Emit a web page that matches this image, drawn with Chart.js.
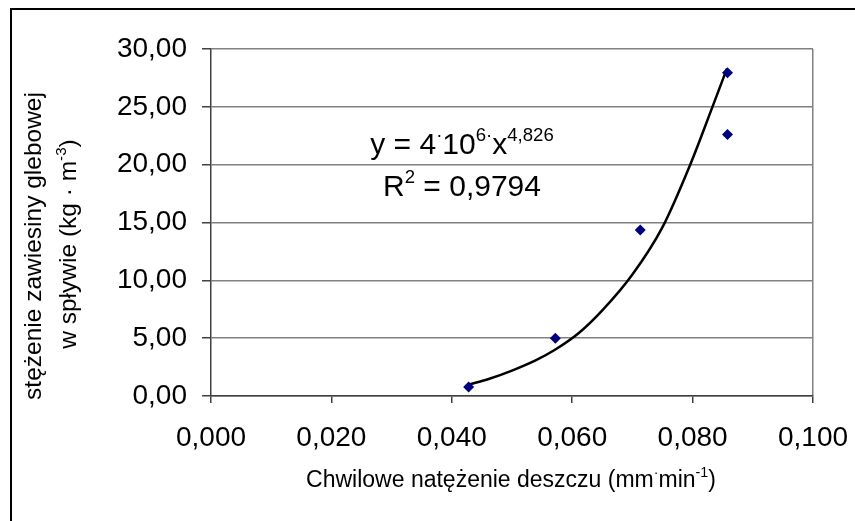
<!DOCTYPE html>
<html>
<head>
<meta charset="utf-8">
<script src="https://cdn.jsdelivr.net/npm/chart.js@4/dist/chart.umd.min.js"></script>
<style>
  html, body { margin: 0; padding: 0; background: #fff; }
  #wrap { width: 855px; height: 521px; position: relative; }
</style>
</head>
<body>
<div id="wrap"><canvas id="MyChart"></canvas></div>
<script>
// measured points
const rainX = [0.0428, 0.0572, 0.0713, 0.0858, 0.0858];
const soilY = [0.78, 5.0, 14.35, 22.6, 27.95];

// power trendline
const trendX = [0.0429, 0.046, 0.050, 0.054, 0.057, 0.061, 0.065, 0.070, 0.075, 0.0796, 0.0833, 0.0857];
const trendY = [1.0, 1.45, 2.2, 3.1, 3.95, 5.4, 7.4, 10.5, 14.6, 20.0, 25.0, 28.3];

const xTitle = [['Chwilowe natężenie deszczu (mm', 0], ['·', 1], ['min', 0], ['-1', 1], [')', 0]];
const yTitle1 = [['stężenie zawiesiny glebowej', 0]];
const yTitle2 = [['w spływie (kg · m', 0], ['-3', 1], [')', 0]];
const eqLine = [['y = 4', 0], ['·', 1], ['10', 0], ['6·', 1], ['x', 0], ['4,826', 1]];
const r2Line = [['R', 0], ['2', 1], [' = 0,9794', 0]];

const FONT = '"Liberation Sans", Arial, sans-serif';

function richWidth(ctx, parts, size) {
    let w = 0;
    parts.forEach(p => {
        ctx.font = (p[1] ? size * 0.62 : size) + 'px ' + FONT;
        w += ctx.measureText(p[0]).width;
    });
    return w;
}

// draws text with superscript pieces, centred on cx, on baseline y
function drawRich(ctx, parts, size, cx, y) {
    const w = richWidth(ctx, parts, size);
    let x = cx - w / 2;
    ctx.textAlign = 'left';
    ctx.textBaseline = 'alphabetic';
    parts.forEach(p => {
        const s = p[1] ? size * 0.62 : size;
        ctx.font = s + 'px ' + FONT;
        ctx.fillText(p[0], x, p[1] ? y - size * 0.42 : y);
        x += ctx.measureText(p[0]).width;
    });
}

const extras = {
    id: 'extras',
    beforeDraw(chart) {
        const ctx = chart.ctx;
        ctx.save();
        ctx.fillStyle = '#fff';
        ctx.fillRect(0, 0, chart.width, chart.height);
        ctx.strokeStyle = '#000';
        ctx.lineWidth = 2;
        ctx.strokeRect(11, 9, 1000, 1000);
        ctx.restore();
    },
    afterDraw(chart) {
        const ctx = chart.ctx;
        ctx.save();
        ctx.fillStyle = '#000';
        drawRich(ctx, xTitle, 23, 511, 487);
        drawRich(ctx, eqLine, 30, 462, 154);
        drawRich(ctx, r2Line, 30, 462, 196);
        ctx.save();
        ctx.translate(41, 246);
        ctx.rotate(-Math.PI / 2);
        drawRich(ctx, yTitle1, 24.5, 0, 0);
        ctx.restore();
        ctx.save();
        ctx.translate(76, 244);
        ctx.rotate(-Math.PI / 2);
        drawRich(ctx, yTitle2, 24.5, 0, 0);
        ctx.restore();
        ctx.restore();
    }
};

const ctx = document.getElementById('MyChart').getContext('2d');
const myChart = new Chart(ctx, {
    type: 'scatter',
    data: {
        datasets: [
            {
                label: 'pomiary',
                data: rainX.map((x, i) => ({ x: x, y: soilY[i] })),
                pointStyle: 'rectRot',
                pointRadius: 5.5,
                pointHoverRadius: 5.5,
                backgroundColor: '#000080',
                borderColor: '#000080',
                borderWidth: 0,
                order: 1
            },
            {
                label: 'trend',
                type: 'line',
                data: trendX.map((x, i) => ({ x: x, y: trendY[i] })),
                borderColor: '#000',
                borderWidth: 2.5,
                pointRadius: 0,
                fill: false,
                cubicInterpolationMode: 'monotone',
                order: 2
            }
        ]
    },
    options: {
        responsive: true,
        maintainAspectRatio: false,
        animation: false,
        events: [],
        layout: { padding: { left: 0, top: 49, right: 42, bottom: 0 } },
        plugins: { legend: { display: false }, tooltip: { enabled: false } },
        scales: {
            x: {
                type: 'linear',
                min: 0,
                max: 0.1,
                afterFit: s => { s.height = 125; s.paddingLeft = 0; s.paddingRight = 0; },
                ticks: {
                    stepSize: 0.02,
                    padding: 18,
                    color: '#000',
                    font: { family: FONT, size: 28 },
                    callback: v => v.toFixed(3).replace('.', ',')
                },
                grid: {
                    color: c => (c.tick && Math.abs(c.tick.value - 0.1) < 1e-9) ? '#808080' : 'rgba(0,0,0,0)',
                    tickColor: '#404040',
                    tickLength: 7,
                    lineWidth: 1.5
                },
                border: { color: '#404040', width: 1.5 }
            },
            y: {
                min: 0,
                max: 30,
                afterFit: s => { s.width = 211; s.paddingTop = 0; s.paddingBottom = 0; },
                ticks: {
                    stepSize: 5,
                    padding: 15,
                    color: '#000',
                    font: { family: FONT, size: 28 },
                    callback: v => v.toFixed(2).replace('.', ',')
                },
                grid: {
                    color: '#808080',
                    tickColor: '#404040',
                    tickLength: 9,
                    lineWidth: 1.5
                },
                border: { color: '#404040', width: 1.5 }
            }
        }
    },
    plugins: [extras]
});
</script>
</body>
</html>
